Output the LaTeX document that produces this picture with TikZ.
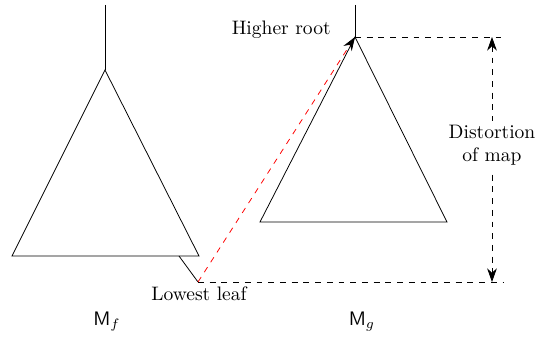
\documentclass[tikz,border=0pt]{standalone}
\usepackage{amsmath,amssymb}
\usetikzlibrary{arrows.meta,positioning,calc}

\tikzset{
    guide/.style={dashed},
    tree/.style={line join=miter},
    maptip/.tip={Stealth[length=7pt, width=5pt, black]},
    lbl/.style={inner sep=1pt}
}

\begin{document}
\begin{tikzpicture}[x=0.018cm, y=-0.018cm]
    \useasboundingbox (0,0) rectangle (535,341);

    % tree of f
    \coordinate (ftop) at (105,5);
    \coordinate (froot) at (105,70);
    \coordinate (fleft) at (12,256);
    \coordinate (fright) at (199,256);
    \coordinate (fbranch) at (179,256);
    \coordinate (leaf) at (198,282);
    \draw[tree] (ftop) -- (froot);
    \draw[tree] (froot) -- (fleft) -- (fright) -- cycle;
    \draw[tree] (fbranch) -- (leaf);

    % tree of g
    \coordinate (gtop) at (355,5);
    \coordinate (groot) at (355,37);
    \coordinate (gleft) at (260,222);
    \coordinate (gright) at (447,222);
    \draw[tree] (gtop) -- (groot);
    \draw[tree] (groot) -- (gleft) -- (gright) -- cycle;

    % distortion
    \coordinate (rootend) at (503,37);
    \coordinate (leafend) at (503,282);
    \coordinate (disttop) at (492,37);
    \coordinate (distbot) at (492,282);
    \draw[guide] (groot) -- (rootend);
    \draw[guide] (leaf) -- (leafend);
    \draw[red, dashed, -maptip] (leaf) -- (groot);
    \draw[guide, maptip-maptip] (disttop) -- (distbot);
    \node[fill=white, align=center, inner sep=2pt] (dist) at (492,145) {Distortion\\of map};

    % labels
    \node[lbl, anchor=east] (hroot) at (333,30) {Higher root};
    \node[lbl] (lleaf) at (199,294) {Lowest leaf};
    \node (mf) at (107,322) {$\mathsf{M}_f$};
    \node (mg) at (362,322) {$\mathsf{M}_g$};
\end{tikzpicture}
\end{document}
